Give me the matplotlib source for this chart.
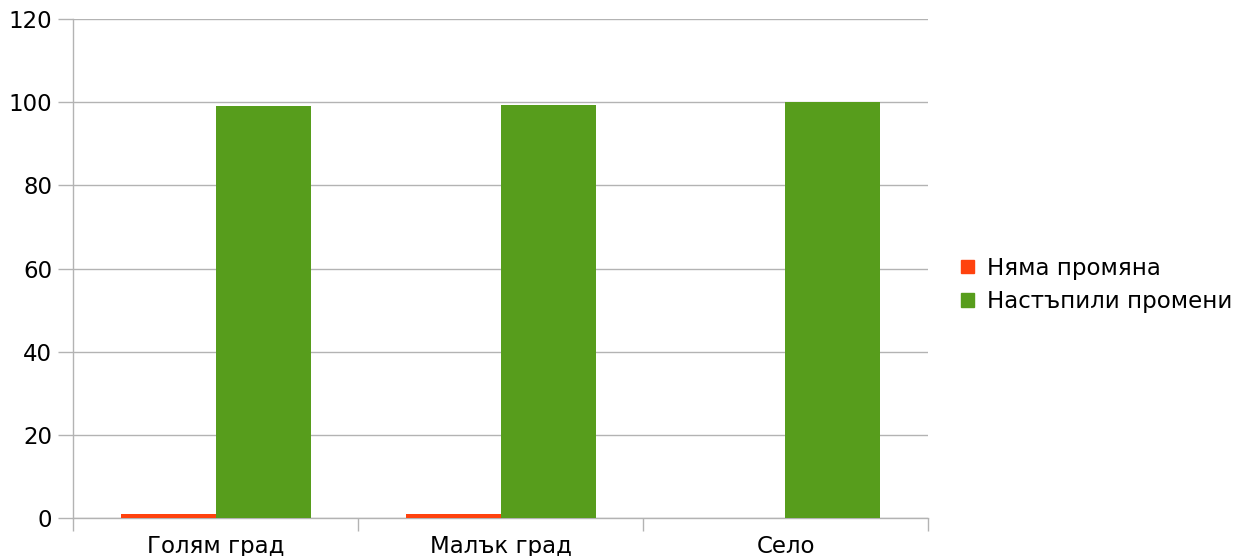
import matplotlib
matplotlib.use("Agg")
import matplotlib.pyplot as plt
import numpy as np
from matplotlib.patches import Patch

plt.rcParams['font.family'] = ['DejaVu Sans']

categories = ["Голям град", "Малък град", "Село"]
series_names = ["Няма промяна", "Настъпили промени"]
no_change = [1.0, 0.9, 0.0]
changed = [99.0, 99.3, 100.0]
colors = ["#ff420e", "#579d1c"]

W, H = 1247, 556
fig = plt.figure(figsize=(W / 100, H / 100), dpi=100)
ax = fig.add_axes([73 / W, (H - 518) / H, (928 - 73) / W, (518 - 19) / H])

x = np.arange(len(categories))
bw = 1 / 3
ax.bar(x - bw / 2, no_change, width=bw, color=colors[0], zorder=3)
ax.bar(x + bw / 2, changed, width=bw, color=colors[1], zorder=3)

ax.set_xlim(-0.5, len(categories) - 0.5)
ax.set_ylim(0, 120)
ax.set_yticks(np.arange(0, 121, 20))
ax.yaxis.grid(True, color="#b3b3b3", linewidth=1)
ax.set_axisbelow(True)

fs = 16.5
ax.set_xticks(np.arange(-0.5, len(categories), 1))
ax.set_xticklabels([])
ax.set_xticks(x, minor=True)
ax.set_xticklabels(categories, minor=True)
ax.tick_params(axis='x', which='minor', length=0, labelsize=fs, pad=12)
ax.tick_params(axis='x', which='major', length=9, color="#b3b3b3", width=1)
ax.tick_params(axis='y', length=11, color="#b3b3b3", width=1, labelsize=fs, pad=4)

for s in ["top", "right"]:
    ax.spines[s].set_visible(False)
for s in ["left", "bottom"]:
    ax.spines[s].set_color("#b3b3b3")
    ax.spines[s].set_linewidth(1)

handles = [Patch(color=c, label=n) for c, n in zip(colors, series_names)]
fig.legend(handles=handles, loc="center left", bbox_to_anchor=(961 / W, 1 - 285 / H),
           frameon=False, fontsize=fs, handlelength=0.55, handleheight=0.5,
           handletextpad=0.6, labelspacing=0.45, borderpad=0, borderaxespad=0)

fig.savefig("out.png", dpi=100)
